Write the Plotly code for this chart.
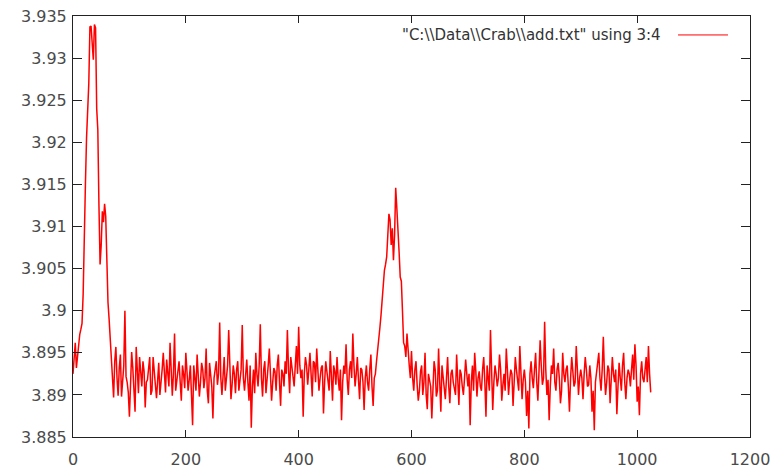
import plotly.graph_objects as go

# Column 3 (sample position) and column 4 (measured value) of add.txt,
# kept as two interleaved runs of readings.
x_even = list(range(0, 1025, 4))
y_even = [
    # 0 - 96
    3.8925, 3.8962, 3.8948, 3.8972, 3.8985, 3.9110, 3.9205, 3.9270, 3.9338, 3.9298,
    3.9336, 3.9215, 3.9055, 3.9118, 3.9127, 3.9045, 3.8990, 3.8935, 3.8897, 3.8957,
    3.8899, 3.8948, 3.8912, 3.9000, 3.8915,
    # 100 - 196
    3.8874, 3.8951, 3.8908, 3.8957, 3.8902, 3.8930, 3.8940, 3.8885, 3.8918, 3.8945,
    3.8905, 3.8932, 3.8896, 3.8938, 3.8912, 3.8950, 3.8903, 3.8928, 3.8962, 3.8899,
    3.8973, 3.8915, 3.8940, 3.8893, 3.8925,
    # 200 - 296
    3.8950, 3.8905, 3.8935, 3.8864, 3.8920, 3.8948, 3.8898, 3.8938, 3.8908, 3.8955,
    3.8890, 3.8925, 3.8872, 3.8930, 3.8912, 3.8986, 3.8900, 3.8945, 3.8918, 3.8977,
    3.8895, 3.8935, 3.8902, 3.8940, 3.8915,
    # 300 - 396
    3.8983, 3.8905, 3.8942, 3.8893, 3.8861, 3.8930, 3.8950, 3.8910, 3.8984, 3.8898,
    3.8940, 3.8915, 3.8955, 3.8893, 3.8932, 3.8905, 3.8948, 3.8887, 3.8925, 3.8940,
    3.8977, 3.8902, 3.8935, 3.8910, 3.8958,
    # 400 - 496
    3.8981, 3.8920, 3.8874, 3.8945, 3.8912, 3.8950, 3.8898, 3.8938, 3.8955, 3.8905,
    3.8932, 3.8878, 3.8940, 3.8915, 3.8952, 3.8893, 3.8928, 3.8945, 3.8905, 3.8870,
    3.8935, 3.8960, 3.8900, 3.8940, 3.8973,
    # 500 - 596
    3.8910, 3.8945, 3.8895, 3.8930, 3.8882, 3.8935, 3.8905, 3.8948, 3.8887, 3.8925,
    3.8957, 3.8980, 3.9013, 3.9048, 3.9064, 3.9115, 3.9078, 3.9060, 3.9146, 3.9100,
    3.9040, 3.9000, 3.8958, 3.8973, 3.8935,
    # 600 - 696
    3.8952, 3.8905, 3.8940, 3.8893, 3.8928, 3.8900, 3.8950, 3.8883, 3.8918, 3.8872,
    3.8940, 3.8898, 3.8955, 3.8880, 3.8920, 3.8895, 3.8945, 3.8890, 3.8930, 3.8905,
    3.8948, 3.8888, 3.8925, 3.8900, 3.8942,
    # 700 - 796
    3.8910, 3.8864, 3.8935, 3.8950, 3.8898, 3.8928, 3.8905, 3.8945, 3.8874, 3.8920,
    3.8977, 3.8882, 3.8935, 3.8910, 3.8948, 3.8893, 3.8925, 3.8955, 3.8900, 3.8930,
    3.8887, 3.8945, 3.8915, 3.8958, 3.8895,
    # 800 - 896
    3.8930, 3.8875, 3.8860, 3.8940, 3.8908, 3.8950, 3.8893, 3.8965, 3.8912, 3.8987,
    3.8900, 3.8870, 3.8935, 3.8955, 3.8905, 3.8938, 3.8890, 3.8950, 3.8915, 3.8935,
    3.8880, 3.8945, 3.8910, 3.8958, 3.8900,
    # 900 - 1024
    3.8930, 3.8895, 3.8945, 3.8910, 3.8935, 3.8880, 3.8858, 3.8925, 3.8950, 3.8905,
    3.8969, 3.8900, 3.8935, 3.8890, 3.8945, 3.8915, 3.8877, 3.8938, 3.8905, 3.8950,
    3.8895, 3.8930, 3.8910, 3.8948, 3.8960, 3.8892, 3.8876, 3.8940, 3.8915, 3.8945,
    3.8958, 3.8903,
]

x_odd = list(range(2, 1024, 4))
y_odd = [
    # 2 - 98
    3.8940, 3.8932, 3.8958, 3.8978, 3.9020, 3.9150, 3.9245, 3.9337, 3.9318, 3.9340,
    3.9240, 3.9125, 3.9078, 3.9105, 3.9112, 3.9010, 3.8968, 3.8918, 3.8940, 3.8920,
    3.8932, 3.8898, 3.8935, 3.8922, 3.8903,
    # 102 - 198
    3.8920, 3.8932, 3.8880, 3.8925, 3.8945, 3.8910, 3.8928, 3.8915, 3.8935, 3.8900,
    3.8945, 3.8912, 3.8925, 3.8900, 3.8930, 3.8920, 3.8942, 3.8910, 3.8935, 3.8925,
    3.8905, 3.8930, 3.8915, 3.8935, 3.8908,
    # 202 - 298
    3.8928, 3.8918, 3.8900, 3.8935, 3.8905, 3.8925, 3.8915, 3.8930, 3.8920, 3.8905,
    3.8938, 3.8910, 3.8920, 3.8940, 3.8925, 3.8920, 3.8930, 3.8905, 3.8935, 3.8920,
    3.8912, 3.8925, 3.8930, 3.8905, 3.8930,
    # 302 - 398
    3.8920, 3.8928, 3.8915, 3.8935, 3.8910, 3.8902, 3.8925, 3.8935, 3.8920, 3.8930,
    3.8902, 3.8935, 3.8920, 3.8915, 3.8928, 3.8935, 3.8915, 3.8930, 3.8910, 3.8925,
    3.8930, 3.8945, 3.8922, 3.8935, 3.8925,
    # 402 - 498
    3.8935, 3.8930, 3.8925, 3.8935, 3.8930, 3.8925, 3.8940, 3.8915, 3.8930, 3.8920,
    3.8935, 3.8915, 3.8928, 3.8905, 3.8925, 3.8935, 3.8912, 3.8920, 3.8930, 3.8915,
    3.8925, 3.8918, 3.8930, 3.8920, 3.8935,
    # 502 - 598
    3.8925, 3.8918, 3.8932, 3.8915, 3.8920, 3.8915, 3.8930, 3.8910, 3.8920, 3.8940,
    3.8965, 3.8995, 3.9025, 3.9055, 3.9090, 3.9108, 3.9098, 3.9090, 3.9122, 3.9070,
    3.9035, 3.8962, 3.8945, 3.8950, 3.8920,
    # 602 - 698
    3.8920, 3.8930, 3.8912, 3.8905, 3.8935, 3.8915, 3.8900, 3.8925, 3.8910, 3.8920,
    3.8930, 3.8905, 3.8915, 3.8935, 3.8908, 3.8920, 3.8910, 3.8925, 3.8915, 3.8900,
    3.8920, 3.8930, 3.8910, 3.8920, 3.8925,
    # 702 - 798
    3.8925, 3.8915, 3.8905, 3.8928, 3.8920, 3.8910, 3.8930, 3.8915, 3.8935, 3.8905,
    3.8925, 3.8915, 3.8925, 3.8920, 3.8930, 3.8912, 3.8905, 3.8930, 3.8918, 3.8925,
    3.8915, 3.8930, 3.8905, 3.8925, 3.8918,
    # 802 - 898
    3.8915, 3.8905, 3.8925, 3.8920, 3.8930, 3.8915, 3.8928, 3.8935, 3.8920, 3.8930,
    3.8918, 3.8910, 3.8925, 3.8915, 3.8930, 3.8920, 3.8905, 3.8925, 3.8930, 3.8910,
    3.8920, 3.8928, 3.8915, 3.8930, 3.8920,
    # 902 - 1022
    3.8920, 3.8925, 3.8930, 3.8912, 3.8920, 3.8905, 3.8915, 3.8935, 3.8920, 3.8930,
    3.8925, 3.8915, 3.8930, 3.8918, 3.8925, 3.8930, 3.8910, 3.8920, 3.8935, 3.8915,
    3.8920, 3.8925, 3.8930, 3.8918, 3.8935, 3.8910, 3.8925, 3.8920, 3.8930, 3.8915,
    3.8925,
]
assert len(x_even) == len(y_even) and len(x_odd) == len(y_odd)

# merge both runs into one series ordered by sample position
samples = sorted(zip(x_even + x_odd, y_even + y_odd))
x_values = [s[0] for s in samples]
y_values = [s[1] for s in samples]

x_ticks = [0, 200, 400, 600, 800, 1000, 1200]
x_tick_labels = ["0", "200", "400", "600", "800", "1000", "1200"]
y_ticks = [3.885, 3.89, 3.895, 3.9, 3.905, 3.91, 3.915, 3.92, 3.925, 3.93, 3.935]
y_tick_labels = ["3.885", "3.89", "3.895", "3.9", "3.905", "3.91", "3.915",
                 "3.92", "3.925", "3.93", "3.935"]

series_title = r'"C:\\Data\\Crab\\add.txt" using 3:4'

LINE_RED = "#ff0000"
AXIS_COLOR = "#222222"
TEXT_COLOR = "#4a4a4a"
FONT = "DejaVu Sans"

fig = go.Figure()
fig.add_trace(go.Scatter(
    x=x_values, y=y_values, mode="lines",
    line=dict(color=LINE_RED, width=1.5),
    name=series_title, showlegend=False,
))

axis_common = dict(
    showline=True, linecolor=AXIS_COLOR, linewidth=1, mirror="ticks",
    ticks="inside", tickcolor=AXIS_COLOR, tickwidth=1,
    showgrid=False, zeroline=False, automargin=False,
    tickfont=dict(family=FONT, size=16, color=TEXT_COLOR),
)

fig.update_layout(
    width=773, height=470,
    margin=dict(l=73, r=23, t=16, b=33),
    paper_bgcolor="white", plot_bgcolor="white",
    xaxis=dict(range=[0, 1200], tickvals=x_ticks, ticktext=x_tick_labels,
               ticklen=7, ticklabelstandoff=8, **axis_common),
    yaxis=dict(range=[3.885, 3.935], tickvals=y_ticks, ticktext=y_tick_labels,
               ticklen=9, ticklabelstandoff=2, **axis_common),
)

# gnuplot-style key: title text followed by a line sample
fig.add_annotation(
    x=0.8715, y=0.955, xref="paper", yref="paper",
    xanchor="right", yanchor="middle", showarrow=False,
    text=series_title,
    font=dict(family=FONT, size=15, color="#333333"),
)
fig.add_shape(
    type="line", xref="paper", yref="paper",
    x0=0.8937, x1=0.9675, y0=0.955, y1=0.955,
    line=dict(color=LINE_RED, width=1),
)

fig.write_html("out.html")
